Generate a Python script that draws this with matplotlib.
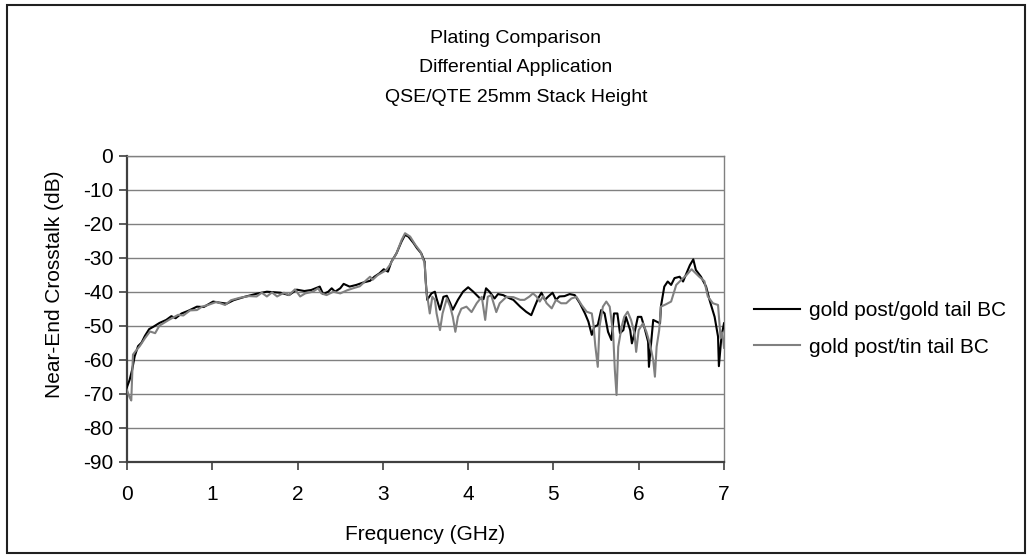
import matplotlib.pyplot as plt
from matplotlib.patches import Rectangle

plt.rcParams['font.family'] = ['Liberation Sans', 'DejaVu Sans']
plt.rcParams['axes.unicode_minus'] = False

# gold post / gold tail (black trace), frequency in GHz and crosstalk in dB
gold_f = [0.00, 0.03, 0.06, 0.09, 0.13, 0.17, 0.21, 0.26, 0.31, 0.38, 0.46, 0.52,
          0.57, 0.64, 0.72, 0.82, 0.90, 1.01, 1.08, 1.17, 1.25, 1.38, 1.52, 1.64,
          1.80, 1.90, 1.99, 2.08, 2.16, 2.26, 2.30, 2.36, 2.40, 2.44, 2.50, 2.54,
          2.61, 2.69, 2.77, 2.85, 2.90, 2.96, 3.01, 3.06, 3.10, 3.16, 3.22, 3.26,
          3.30, 3.36, 3.40, 3.45, 3.49, 3.50, 3.52, 3.57, 3.61, 3.63, 3.67, 3.71,
          3.75, 3.79, 3.82, 3.88, 3.94, 4.00, 4.06, 4.14, 4.18, 4.21, 4.25, 4.31,
          4.35, 4.41, 4.49, 4.53, 4.61, 4.68, 4.74, 4.78, 4.82, 4.86, 4.90, 4.94,
          4.99, 5.03, 5.07, 5.13, 5.19, 5.25, 5.31, 5.37, 5.41, 5.45, 5.48, 5.52,
          5.56, 5.60, 5.64, 5.68, 5.71, 5.75, 5.78, 5.82, 5.85, 5.90, 5.92, 5.95,
          5.99, 6.03, 6.07, 6.11, 6.12, 6.15, 6.17, 6.21, 6.25, 6.26, 6.30, 6.34,
          6.38, 6.42, 6.48, 6.52, 6.56, 6.60, 6.64, 6.67, 6.73, 6.79, 6.83, 6.89,
          6.93, 6.94, 6.97, 7.00]
gold_db = [-68.0, -66.0, -63.0, -59.0, -56.0, -55.0, -53.0, -51.0, -50.3, -49.2, -48.3, -47.2,
           -47.8, -46.4, -45.6, -44.4, -44.5, -42.9, -43.2, -43.5, -42.5, -41.5, -40.6, -40.0,
           -40.3, -41.0, -39.4, -39.8, -39.5, -38.5, -40.7, -40.0, -39.0, -40.0, -39.0, -37.7,
           -38.5, -38.0, -37.3, -36.8, -35.6, -34.6, -33.4, -34.1, -31.2, -28.7, -25.2, -23.3,
           -23.8, -25.7, -27.2, -28.7, -31.2, -36.0, -42.4, -40.5, -40.0, -42.0, -45.3, -41.5,
           -41.2, -43.4, -45.3, -42.4, -40.0, -38.7, -40.0, -42.0, -42.2, -39.0, -40.0, -42.0,
           -40.7, -41.0, -42.0, -42.4, -44.4, -45.9, -46.9, -44.4, -42.0, -40.3, -42.4, -41.4,
           -40.3, -42.4, -41.4, -41.3, -40.7, -41.0, -43.4, -46.4, -48.8, -52.7, -50.3, -49.8,
           -45.4, -46.4, -51.8, -54.2, -46.4, -46.4, -52.2, -51.3, -47.4, -51.3, -55.2, -52.2,
           -47.4, -47.4, -50.8, -54.7, -62.1, -53.7, -48.3, -48.8, -49.3, -44.4, -38.5, -37.0,
           -38.0, -36.0, -35.6, -37.0, -34.6, -32.2, -30.5, -33.6, -35.6, -38.5, -42.4, -47.4,
           -53.2, -61.9, -53.2, -49.3]

# gold post / tin tail (grey trace)
tin_f = [0.00, 0.03, 0.05, 0.07, 0.10, 0.15, 0.21, 0.27, 0.33, 0.38, 0.49, 0.60,
         0.66, 0.74, 0.82, 0.88, 0.95, 1.05, 1.15, 1.22, 1.32, 1.43, 1.52, 1.58,
         1.64, 1.70, 1.76, 1.84, 1.90, 1.97, 2.03, 2.09, 2.18, 2.24, 2.28, 2.34,
         2.42, 2.50, 2.58, 2.65, 2.73, 2.81, 2.85, 2.88, 2.94, 3.01, 3.04, 3.08,
         3.16, 3.22, 3.26, 3.32, 3.38, 3.44, 3.49, 3.51, 3.53, 3.55, 3.58, 3.61,
         3.63, 3.67, 3.70, 3.75, 3.79, 3.82, 3.85, 3.88, 3.92, 3.98, 4.04, 4.10,
         4.16, 4.20, 4.23, 4.27, 4.33, 4.37, 4.45, 4.53, 4.61, 4.66, 4.72, 4.76,
         4.80, 4.84, 4.88, 4.92, 4.98, 5.03, 5.09, 5.15, 5.21, 5.27, 5.33, 5.39,
         5.45, 5.47, 5.49, 5.52, 5.54, 5.58, 5.62, 5.66, 5.70, 5.72, 5.74, 5.76,
         5.80, 5.83, 5.87, 5.91, 5.95, 5.97, 6.00, 6.05, 6.09, 6.13, 6.17, 6.19,
         6.21, 6.24, 6.26, 6.32, 6.38, 6.44, 6.50, 6.56, 6.62, 6.67, 6.71, 6.77,
         6.81, 6.87, 6.93, 6.96, 6.98, 7.00]
tin_db = [-69.0, -71.0, -72.0, -58.5, -57.5, -56.0, -53.7, -51.7, -52.2, -50.0, -48.3, -46.8,
          -47.0, -45.5, -45.4, -44.4, -43.9, -43.0, -43.9, -42.5, -41.8, -41.3, -41.4, -40.3,
          -41.4, -40.2, -41.4, -40.3, -41.0, -39.3, -41.4, -40.5, -40.0, -39.0, -40.5, -41.0,
          -40.0, -40.5, -39.6, -39.0, -38.4, -36.5, -35.6, -36.5, -35.1, -34.1, -33.6, -32.2,
          -28.7, -24.8, -22.8, -23.8, -26.2, -28.2, -31.6, -40.0, -42.9, -46.4, -41.5, -42.4,
          -46.4, -51.3, -46.4, -42.0, -44.4, -47.4, -51.8, -47.4, -45.0, -44.4, -46.0, -43.4,
          -41.5, -48.3, -41.5, -41.0, -46.0, -43.4, -41.5, -41.6, -42.4, -42.4, -41.4, -40.5,
          -41.4, -42.9, -41.3, -43.4, -44.9, -42.4, -43.4, -43.4, -42.0, -41.5, -43.9, -45.9,
          -46.4, -49.8, -55.7, -62.1, -50.3, -44.4, -42.9, -44.4, -52.2, -63.0, -70.4, -56.2,
          -50.3, -47.4, -45.9, -48.3, -52.2, -57.7, -51.3, -49.3, -51.8, -55.2, -60.1, -65.0,
          -56.2, -51.3, -44.4, -43.7, -42.9, -38.0, -36.5, -35.1, -33.4, -34.6, -35.6, -36.9,
          -41.4, -43.4, -43.9, -53.7, -52.0, -56.5]

series_labels = ['gold post/gold tail BC', 'gold post/tin tail BC']
title_lines = ['Plating Comparison', 'Differential Application', 'QSE/QTE 25mm Stack Height']
x_ticks = [0, 1, 2, 3, 4, 5, 6, 7]
y_ticks = [0, -10, -20, -30, -40, -50, -60, -70, -80, -90]

W, H = 1032, 558
fig = plt.figure(figsize=(W / 100, H / 100), dpi=100)
ax = fig.add_axes([127 / W, 1 - 461.7 / H, (724 - 127) / W, (461.7 - 155.7) / H])

l1, = ax.plot(gold_f, gold_db, color='black', linewidth=1.5, zorder=3)
l2, = ax.plot(tin_f, tin_db, color='#808080', linewidth=1.5, zorder=4)

ax.set_xlim(0, 7)
ax.set_ylim(-90, 0)
ax.set_xticks(x_ticks)
ax.set_yticks(y_ticks)
ax.grid(axis='y', color='#808080', linewidth=1.0)
ax.set_axisbelow(True)

for side in ['top', 'right']:
    ax.spines[side].set_color('#808080')
    ax.spines[side].set_linewidth(1.0)
for side in ['left', 'bottom']:
    ax.spines[side].set_color('#404040')
    ax.spines[side].set_linewidth(1.6)

ax.tick_params(axis='both', labelsize=15, color='#404040', direction='out', length=6, width=1.2)
ax.tick_params(axis='y', pad=4)
ax.tick_params(axis='x', pad=11)

fig.text(55 / W, 1 - 284 / H, 'Near-End Crosstalk (dB)', rotation=90,
         ha='center', va='center', fontsize=15)
fig.text(425.5 / W, 1 - 535 / H, 'Frequency (GHz)', ha='center', va='center', fontsize=15)

for i, line in enumerate(title_lines):
    fig.text(516 / W, 1 - (42.7 + 29.5 * i) / H, line, ha='center', va='baseline', fontsize=14)

fig.legend([l1, l2], series_labels, loc='center left', bbox_to_anchor=(754 / W, 1 - 328.8 / H),
           frameon=False, fontsize=15, handlelength=2.2, handletextpad=0.45,
           labelspacing=0.85, borderpad=0, borderaxespad=0)

fig.patches.append(Rectangle((7 / W, 1 - 553 / H), (1025 - 7) / W, (553 - 5) / H,
                             transform=fig.transFigure, fill=False,
                             edgecolor='#202020', linewidth=1.5))

fig.savefig('out.png', dpi=100)
